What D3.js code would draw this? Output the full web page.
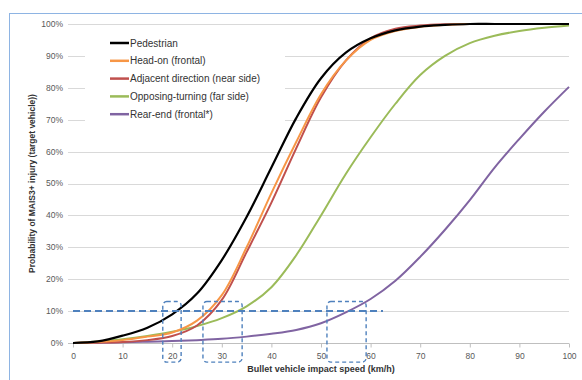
<!DOCTYPE html>
<html>
<head>
<meta charset="utf-8">
<script src="https://cdn.jsdelivr.net/npm/d3@7"></script>
<style>
  body { margin: 0; background: #fff; }
  svg text { font-family: "Liberation Sans", Arial, sans-serif; }
</style>
</head>
<body>
<div id="chart-container"></div>
<script>
// Chart data
const speeds = [0, 5, 10, 15, 20, 25, 30, 35, 40, 45, 50, 55, 60, 65, 70, 75, 80, 85, 90, 95, 100];

const pedestrian = [0, 0.5, 2.3, 4.8, 9, 15.5, 26, 39.5, 55, 70.5, 83, 91, 95.5, 98, 99.2, 99.7, 100, 100, 100, 100, 100];
const headOn     = [0, 0.3, 0.9, 2, 3.3, 7, 15, 30, 47, 63, 78, 88.5, 95, 97.8, 99.1, 99.7, 100, 100, 100, 100, 100];
const adjacent   = [0, 0.1, 0.3, 0.9, 2.2, 5.5, 13.5, 28.5, 44, 61, 77, 88.5, 95.5, 98.5, 99.5, 99.9, 100, 100, 100, 100, 100];
const opposing   = [0, 0.5, 1.2, 2.2, 3.5, 5.3, 7.8, 11.5, 17.5, 27.5, 40, 53, 64.5, 75, 84, 90, 94, 96.3, 97.8, 98.8, 99.5];
const rearEnd    = [0, 0.1, 0.2, 0.4, 0.6, 0.9, 1.3, 2, 2.9, 4.1, 6.2, 9.6, 13.8, 19.5, 27, 35.5, 44.8, 55, 64, 72.5, 80.3];

const seriesNames = ["Pedestrian", "Head-on (frontal)", "Adjacent direction (near side)", "Opposing-turning (far side)", "Rear-end (frontal*)"];
const seriesColors = ["#000000", "#f79646", "#c0504d", "#9bbb59", "#8064a2"];
const seriesValues = [pedestrian, headOn, adjacent, opposing, rearEnd];

const xTicks = [0, 10, 20, 30, 40, 50, 60, 70, 80, 90, 100];
const yTicks = [0, 10, 20, 30, 40, 50, 60, 70, 80, 90, 100];

// threshold annotation: 10% line and speed windows
const thresholdLevel = 10;
const thresholdEnd = 62.5;
const speedWindows = [[18.1, 21.8], [26.2, 34.1], [51.2, 59.1]];

const W = 582, H = 380;
const margin = { top: 24, right: 13, bottom: 37, left: 73 };
const width = W - margin.left - margin.right;
const height = H - margin.top - margin.bottom;

const x = d3.scaleLinear().domain([0, 100]).range([0, width]);
const y = d3.scaleLinear().domain([0, 100]).range([height, 0]);

const root = d3.select("#chart-container")
    .append("svg")
    .attr("width", W)
    .attr("height", H);

// outer frame
root.append("rect")
    .attr("x", 9.5).attr("y", 13.5)
    .attr("width", W + 10).attr("height", H + 10)
    .attr("fill", "none")
    .attr("stroke", "#8eb4e3")
    .attr("stroke-width", 1);

const svg = root.append("g")
    .attr("transform", `translate(${margin.left},${margin.top})`);

// horizontal gridlines (with short tick on the left)
svg.append("g")
    .selectAll("line")
    .data(yTicks.filter(d => d > 0))
    .join("line")
    .attr("x1", -5).attr("x2", width)
    .attr("y1", d => Math.round(y(d)) + 0.5)
    .attr("y2", d => Math.round(y(d)) + 0.5)
    .attr("stroke", "#d9d9d9")
    .attr("stroke-width", 1);

// x axis
const xAxis = svg.append("g")
    .attr("transform", `translate(0,${Math.round(height) + 0.5})`)
    .call(d3.axisBottom(x).tickValues(xTicks).tickSize(4).tickPadding(5));
xAxis.select(".domain").attr("stroke", "#bfbfbf").attr("d", `M-5,0H${width}`);
xAxis.selectAll(".tick line").attr("stroke", "#bfbfbf");
xAxis.selectAll(".tick text")
    .attr("fill", "#595959")
    .style("font-size", "8.5px");

// y tick labels
svg.append("g")
    .selectAll("text")
    .data(yTicks)
    .join("text")
    .attr("x", -10)
    .attr("y", d => y(d))
    .attr("dy", "0.35em")
    .attr("text-anchor", "end")
    .attr("fill", "#595959")
    .style("font-size", "8.5px")
    .text(d => d + "%");

// legend box (covers the grid)
svg.append("rect")
    .attr("x", 85 - margin.left).attr("y", 28 - margin.top)
    .attr("width", 200).attr("height", 108)
    .attr("fill", "#fff");

// curves
const line = d3.line()
    .x((d, i) => x(speeds[i]))
    .y(d => y(d))
    .curve(d3.curveCatmullRom.alpha(0.5));

// draw bottom series first so pedestrian sits on top
[4, 3, 2, 1, 0].forEach(k => {
    svg.append("path")
        .datum(seriesValues[k])
        .attr("fill", "none")
        .attr("stroke", seriesColors[k])
        .attr("stroke-width", k === 0 ? 2.2 : 2)
        .attr("d", line);
});

// threshold dashed line
svg.append("line")
    .attr("x1", x(0)).attr("x2", x(thresholdEnd))
    .attr("y1", y(thresholdLevel)).attr("y2", y(thresholdLevel))
    .attr("stroke", "#4f81bd")
    .attr("stroke-width", 2)
    .attr("stroke-dasharray", "7,4");

// speed windows
svg.append("g")
    .selectAll("rect")
    .data(speedWindows)
    .join("rect")
    .attr("x", d => x(d[0]))
    .attr("width", d => x(d[1]) - x(d[0]))
    .attr("y", y(13))
    .attr("height", y(-6) - y(13))
    .attr("rx", 4)
    .attr("fill", "none")
    .attr("stroke", "#4f81bd")
    .attr("stroke-width", 1.4)
    .attr("stroke-dasharray", "4,3");

// legend
const legend = svg.append("g")
    .attr("transform", `translate(${110 - margin.left},${43 - margin.top})`);
seriesNames.forEach((name, i) => {
    const g = legend.append("g").attr("transform", `translate(0,${i * 17.8})`);
    g.append("line")
        .attr("x1", 0).attr("x2", 19)
        .attr("stroke", seriesColors[i])
        .attr("stroke-width", 2.5);
    g.append("text")
        .attr("x", 20)
        .attr("dy", "0.35em")
        .attr("fill", "#333")
        .style("font-size", "10px")
        .text(name);
});

// axis titles
svg.append("text")
    .attr("x", x(50))
    .attr("y", height + 29)
    .attr("text-anchor", "middle")
    .attr("fill", "#333")
    .style("font-size", "9px")
    .style("font-weight", "bold")
    .text("Bullet vehicle impact speed (km/h)");

svg.append("text")
    .attr("transform", `translate(${32 - margin.left},${y(50)}) rotate(-90)`)
    .attr("dy", "0.35em")
    .attr("text-anchor", "middle")
    .attr("fill", "#333")
    .style("font-size", "8.5px")
    .style("font-weight", "bold")
    .text("Probability of MAIS3+ injury  (target vehicle))");
</script>
</body>
</html>
